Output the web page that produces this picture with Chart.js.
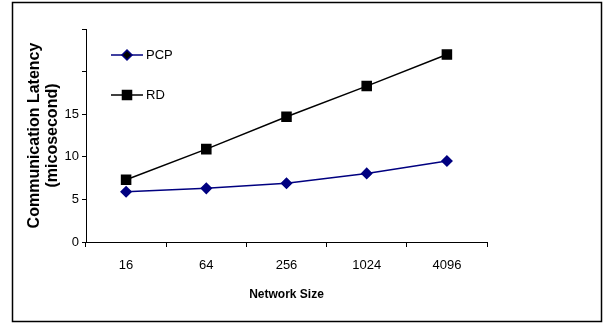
<!DOCTYPE html>
<html lang="en">

<head>
  <meta charset="UTF-8">
  <meta name="viewport" content="width=device-width, initial-scale=1.0">
  <title>Communication Latency</title>
  <script src="https://cdn.jsdelivr.net/npm/chart.js"></script>
  <style>
    body { margin: 0; background-color: #ffffff; }
  </style>
</head>

<body>
  <canvas id="myCanvas" width="605" height="324"></canvas>
</body>

</html>
<script>
  // dados do grafico
  let tamanhos = ["16", "64", "256", "1024", "4096"];
  let latenciaPCP = [5.9, 6.3, 6.9, 8.05, 9.5];
  let latenciaRD = [7.3, 10.9, 14.7, 18.3, 22.0];
  let ticksY = [0, 5, 10, 15, 20, 25];
  let rotulosY = ["0", "5", "10", "15", "", ""];

  // legenda dentro da area do grafico + moldura externa
  const legendaEMoldura = {
    id: "legendaEMoldura",
    afterDraw(chart) {
      const ctx = chart.ctx;
      ctx.save();
      ctx.strokeStyle = "#000000";
      ctx.lineWidth = 1.5;
      ctx.strokeRect(12.5, 2.5, 589, 319);

      chart.data.datasets.forEach(function (ds, i) {
        const y = 55 + i * 40;
        ctx.strokeStyle = ds.borderColor;
        ctx.lineWidth = 1.5;
        ctx.beginPath();
        ctx.moveTo(111, y);
        ctx.lineTo(143, y);
        ctx.stroke();
        Chart.helpers.drawPoint(ctx, {
          pointStyle: ds.pointStyle,
          radius: ds.pointRadius,
          borderWidth: 1
        }, 127, y);
        ctx.fillStyle = "#000000";
        ctx.font = "13px 'Liberation Sans', Arial, sans-serif";
        ctx.textBaseline = "middle";
        ctx.textAlign = "left";
        ctx.fillText(ds.label, 146, y);
      });
      ctx.restore();
    },
  };

  let dados = {
    labels: tamanhos,
    datasets: [
      {
        label: "PCP",
        data: latenciaPCP,
        borderColor: "#000080",
        backgroundColor: "#000080",
        borderWidth: 1.5,
        pointStyle: "rectRot",
        pointRadius: 5,
        pointHoverRadius: 5,
        tension: 0,
      },
      {
        label: "RD",
        data: latenciaRD,
        borderColor: "#000000",
        backgroundColor: "#000000",
        borderWidth: 1.5,
        pointStyle: "rect",
        pointRadius: 6.4,
        pointHoverRadius: 6.4,
        tension: 0,
      },
    ],
  };

  const fonte = { family: "'Liberation Sans', Arial, sans-serif", size: 13 };

  const config = {
    type: "line",
    data: dados,
    options: {
      responsive: false,
      animation: false,
      layout: {
        padding: { top: 29, right: 118, bottom: 0, left: 0 },
      },
      scales: {
        x: {
          offset: true,
          afterFit: function (escala) { escala.height = 82; },
          grid: {
            offset: true,
            drawOnChartArea: false,
            tickLength: 5,
            tickColor: "#000000",
          },
          border: { color: "#000000", width: 1 },
          ticks: { color: "#000000", font: fonte, padding: 11, maxRotation: 0 },
          title: {
            display: true,
            text: "Network Size",
            color: "#000000",
            font: { family: fonte.family, size: 12, weight: "bold" },
            padding: { top: 0, bottom: 22 },
          },
        },
        y: {
          min: 0,
          max: 25,
          afterFit: function (escala) { escala.width = 86; },
          afterBuildTicks: function (escala) {
            escala.ticks = ticksY.map(function (v) { return { value: v }; });
          },
          grid: {
            drawOnChartArea: false,
            tickLength: 4,
            tickColor: "#000000",
          },
          border: { color: "#000000", width: 1 },
          ticks: {
            color: "#000000",
            font: fonte,
            padding: 3,
            callback: function (valor) {
              return rotulosY[ticksY.indexOf(valor)];
            },
          },
          title: {
            display: true,
            text: ["Communication Latency", "(micosecond)"],
            color: "#000000",
            font: { family: fonte.family, size: 16, weight: "bold", lineHeight: 1.1 },
            padding: { top: 26, bottom: 0 },
          },
        },
      },
      plugins: {
        legend: { display: false },
        tooltip: { enabled: false },
      },
    },
    plugins: [legendaEMoldura],
  };

  let myChart = new Chart(document.getElementById("myCanvas"), config);
</script>
